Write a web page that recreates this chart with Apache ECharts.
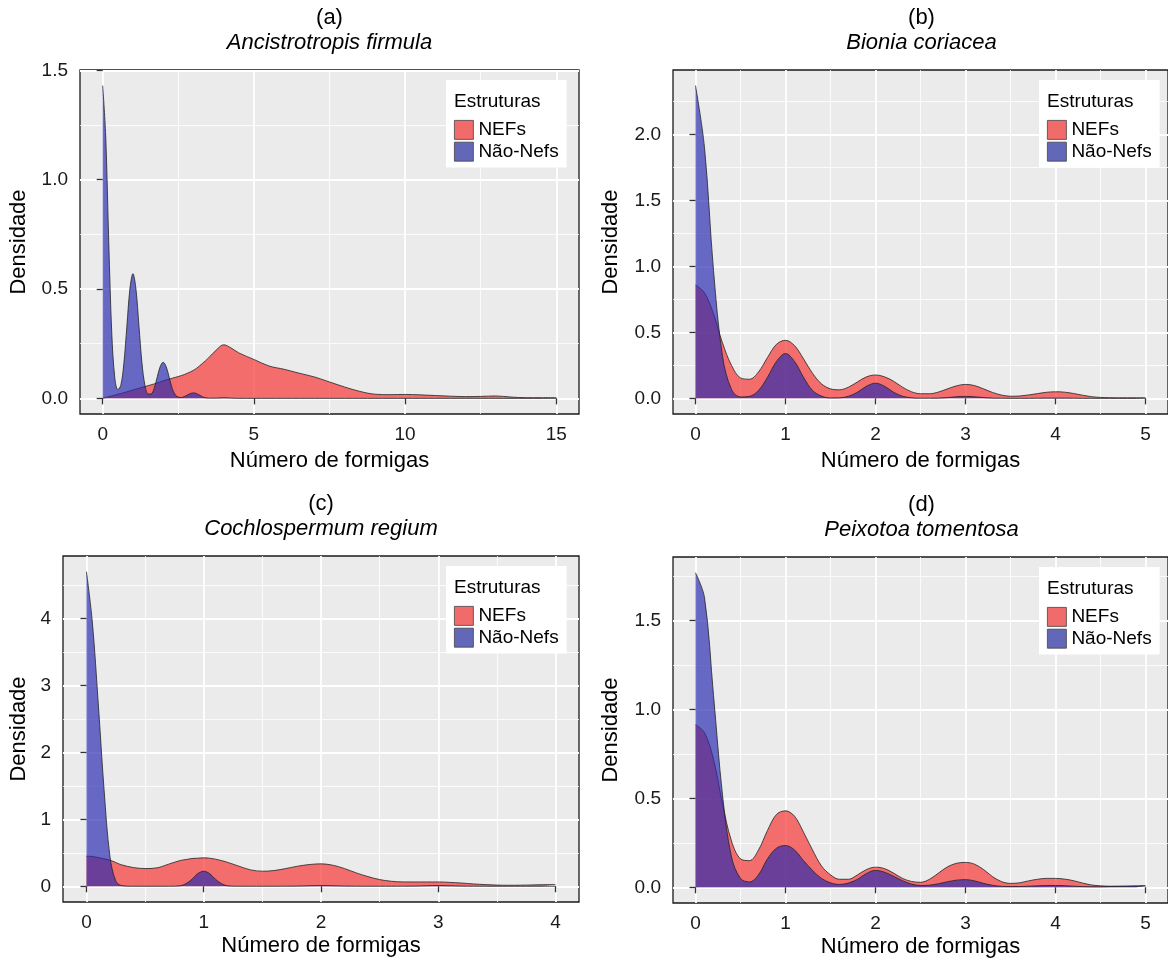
<!DOCTYPE html>
<html>
<head>
<meta charset="utf-8">
<script src="https://cdn.jsdelivr.net/npm/echarts@6/dist/echarts.min.js"></script>
<style>
  html, body { margin: 0; padding: 0; background: #fff; }
  #chart { width: 1168px; height: 963px; }
</style>
</head>
<body>
<div id="chart"></div>
<script>
// ---- values ----
const seriesNames = ['NEFs', 'Não-Nefs'];
const panelLetters = ['(a)', '(b)', '(c)', '(d)'];
const speciesNames = ['Ancistrotropis firmula', 'Bionia coriacea', 'Cochlospermum regium', 'Peixotoa tomentosa'];

// (a) Ancistrotropis firmula
const aX = [0,0.1,0.2,0.3,0.4,0.5,0.6,0.7,0.8,0.9,1,1.1,1.2,1.3,1.4,1.5,1.6,1.7,1.8,1.9,2,2.1,2.2,2.3,2.4,2.5,2.6,2.7,2.8,2.9,3,3.1,3.2,3.3,3.4,3.5,3.75,4,4.25,4.5,5,5.5,6,6.5,7,7.5,8,8.5,9,9.5,10,10.5,11,11.5,12,12.5,13,13.5,14,14.5,15];
const aNefs = [0,0.004,0.008,0.011,0.015,0.019,0.022,0.026,0.03,0.034,
  0.038,0.042,0.046,0.05,0.054,0.058,0.062,0.066,0.07,0.075,
  0.08,0.084,0.088,0.092,0.096,0.1,0.104,0.109,0.115,0.121,
  0.128,0.137,0.148,0.16,0.172,0.185,
  0.22,0.245,0.23,0.208,
  0.178,0.148,0.133,0.115,0.098,0.075,0.052,0.032,0.019,0.017,0.018,0.016,0.013,0.01,0.008,0.009,0.011,0.006,0.003,0.003,0.003];
const aNaoNefs = [1.43,1.2,0.72,0.3,0.095,0.04,0.06,0.16,0.33,0.5,
  0.57,0.5,0.33,0.16,0.058,0.02,0.02,0.045,0.095,0.145,
  0.165,0.145,0.095,0.045,0.016,0.006,0.004,0.008,0.015,0.022,
  0.025,0.022,0.015,0.007,0.003,0.001,
  0.001,0.003,0.001,0,
  0,0,0,0,0,0,0,0,0,0,0,0,0,0,0,0,0,0,0,0,0];

// (b) Bionia coriacea
const bX = [0,0.1,0.2,0.3,0.4,0.5,0.6,0.7,0.8,0.9,1,1.1,1.2,1.3,1.4,1.5,1.6,1.7,1.8,1.9,2,2.1,2.2,2.3,2.4,2.5,2.6,2.7,2.8,2.9,3,3.1,3.2,3.3,3.4,3.5,3.6,3.7,3.8,3.9,4,4.1,4.2,4.3,4.4,4.5,4.6,4.7,4.8,4.9,5];
const bNefs = [0.86,0.8,0.64,0.42,0.25,0.155,0.145,0.2,0.31,0.41,
  0.44,0.4,0.3,0.19,0.11,0.072,0.065,0.085,0.125,0.163,
  0.177,0.163,0.13,0.085,0.05,0.035,0.035,0.048,0.072,0.095,
  0.106,0.097,0.072,0.045,0.025,0.016,0.018,0.026,0.036,0.046,
  0.05,0.047,0.037,0.024,0.013,0.007,0.005,0.004,0.004,0.004,
  0.005];
const bNaoNefs = [2.37,1.9,0.97,0.32,0.068,0.011,0.015,0.06,0.16,0.28,
  0.34,0.28,0.16,0.06,0.017,0.003,0.004,0.016,0.047,0.092,
  0.115,0.092,0.047,0.016,0.004,0.001,0.001,0.002,0.006,0.012,
  0.015,0.012,0.006,0.002,0.001,0,0,0,0.001,0.002,
  0.002,0.002,0.001,0,0,0,0,0,0,0,
  0];

// (c) Cochlospermum regium
const cX = [0,0.05,0.1,0.15,0.2,0.25,0.3,0.4,0.5,0.6,0.7,0.8,0.85,0.9,0.95,1,1.05,1.1,1.15,1.2,1.3,1.4,1.5,1.6,1.7,1.8,1.9,2,2.1,2.2,2.3,2.4,2.5,2.6,2.7,2.8,2.9,3,3.1,3.2,3.3,3.4,3.5,3.6,3.7,3.8,3.9,4];
const cNefs = [0.45,0.445,0.43,0.41,0.39,0.355,0.32,
  0.28,0.265,0.275,0.33,0.385,
  0.4,0.415,0.42,0.425,0.42,0.405,0.385,
  0.36,0.3,0.245,0.225,0.235,0.265,0.3,0.325,0.335,0.315,0.265,
  0.2,0.145,0.1,0.075,0.065,0.065,0.065,0.065,0.058,0.048,
  0.035,0.025,0.018,0.015,0.016,0.02,0.024,0.025];
const cNaoNefs = [4.7,3.95,2.75,1.45,0.45,0.08,0.01,
  0,0,0,0,0.008,
  0.04,0.105,0.19,0.225,0.19,0.105,0.04,
  0.008,0,0,0,0,0.001,0.003,0.007,0.01,0.007,0.003,
  0.001,0,0,0,0.001,0.003,0.007,0.01,0.007,0.003,
  0.001,0,0,0,0,0,0,0];

// (d) Peixotoa tomentosa
const dX = [0,0.1,0.2,0.3,0.4,0.5,0.6,0.7,0.8,0.9,1,1.1,1.2,1.3,1.4,1.5,1.6,1.7,1.8,1.9,2,2.1,2.2,2.3,2.4,2.5,2.6,2.7,2.8,2.9,3,3.1,3.2,3.3,3.4,3.5,3.6,3.7,3.8,3.9,4,4.1,4.2,4.3,4.4,4.5,4.6,4.7,4.8,4.9,5];
const dNefs = [0.915,0.87,0.72,0.47,0.26,0.16,0.15,0.21,0.32,0.41,
  0.43,0.4,0.31,0.21,0.12,0.07,0.045,0.045,0.07,0.1,
  0.113,0.105,0.08,0.05,0.033,0.028,0.045,0.08,0.115,0.135,
  0.14,0.13,0.1,0.06,0.032,0.022,0.025,0.036,0.045,0.05,
  0.05,0.046,0.037,0.024,0.013,0.008,0.006,0.006,0.006,0.007,
  0.008];
const dNaoNefs = [1.77,1.63,1.08,0.52,0.17,0.05,0.03,0.07,0.16,0.22,
  0.235,0.21,0.15,0.095,0.05,0.025,0.016,0.024,0.045,0.078,
  0.095,0.085,0.062,0.037,0.018,0.01,0.012,0.02,0.031,0.04,
  0.043,0.036,0.022,0.011,0.005,0.004,0.004,0.006,0.008,0.01,
  0.01,0.009,0.006,0.004,0.003,0.003,0.004,0.005,0.006,0.007,
  0.008];

// tick values (major / minor grid)
const aXTicks = [0, 5, 10, 15];          const aXMinor = [2.5, 7.5, 12.5];
const aYTicks = [0, 0.5, 1, 1.5];        const aYMinor = [0.25, 0.75, 1.25];
const bXTicks = [0, 1, 2, 3, 4, 5];      const bXMinor = [0.5, 1.5, 2.5, 3.5, 4.5];
const bYTicks = [0, 0.5, 1, 1.5, 2];     const bYMinor = [0.25, 0.75, 1.25, 1.75, 2.25];
const cXTicks = [0, 1, 2, 3, 4];         const cXMinor = [0.5, 1.5, 2.5, 3.5];
const cYTicks = [0, 1, 2, 3, 4];         const cYMinor = [0.5, 1.5, 2.5, 3.5, 4.5];
const dXTicks = [0, 1, 2, 3, 4, 5];      const dXMinor = [0.5, 1.5, 2.5, 3.5, 4.5];
const dYTicks = [0, 0.5, 1, 1.5];        const dYMinor = [0.25, 0.75, 1.25, 1.75];

// ---- layout and styling ----
const FONT = '"Liberation Sans", Arial, sans-serif';
const RED = 'rgba(246,55,55,0.7)';
const BLUE = 'rgba(40,42,175,0.68)';
const RED_KEY = '#F26B6B';
const BLUE_KEY = '#6267B8';

const panels = [
  { x: aX, nefs: aNefs, nao: aNaoNefs, xt: aXTicks, xm: aXMinor, yt: aYTicks, ym: aYMinor,
    left: 80, top: 70, width: 499, height: 344, xr: [-0.75, 15.75], yr: [-0.0715, 1.5015], dec: 1, yGap: 50, xGap: 36, legLeft: 446 },
  { x: bX, nefs: bNefs, nao: bNaoNefs, xt: bXTicks, xm: bXMinor, yt: bYTicks, ym: bYMinor,
    left: 673, top: 70, width: 497, height: 344, xr: [-0.25, 5.25], yr: [-0.1185, 2.4885], dec: 1, yGap: 51, xGap: 36, legLeft: 1039 },
  { x: cX, nefs: cNefs, nao: cNaoNefs, xt: cXTicks, xm: cXMinor, yt: cYTicks, ym: cYMinor,
    left: 63, top: 556, width: 516, height: 346, xr: [-0.2, 4.2], yr: [-0.235, 4.935], dec: 0, yGap: 33, xGap: 33, legLeft: 446 },
  { x: dX, nefs: dNefs, nao: dNaoNefs, xt: dXTicks, xm: dXMinor, yt: dYTicks, ym: dYMinor,
    left: 673, top: 557, width: 497, height: 346, xr: [-0.25, 5.25], yr: [-0.0885, 1.8585], dec: 1, yGap: 51, xGap: 33, legLeft: 1039 }
];

const grid = [], xAxis = [], yAxis = [], series = [], legend = [], graphic = [];

panels.forEach((p, i) => {
  grid.push({
    left: p.left, top: p.top, width: p.width, height: p.height,
    show: true, backgroundColor: '#EBEBEB', borderColor: '#1a1a1a', borderWidth: 1.3
  });

  // major x axis (labels, ticks, major grid)
  xAxis.push({
    type: 'value', gridIndex: i, min: p.xr[0], max: p.xr[1],
    name: 'Número de formigas', nameLocation: 'middle', nameGap: p.xGap,
    nameTextStyle: { fontSize: 22, color: '#000', fontFamily: FONT },
    axisLine: { show: false },
    axisTick: { show: true, customValues: p.xt, length: 6, lineStyle: { color: '#333', width: 1.3 } },
    axisLabel: { customValues: p.xt, fontSize: 19, color: '#1a1a1a', margin: 11, fontFamily: FONT },
    splitLine: { show: true, lineStyle: { color: '#fff', width: 1.8 } }
  });
  // minor x grid
  xAxis.push({
    type: 'value', gridIndex: i, min: p.xr[0], max: p.xr[1],
    axisLine: { show: false },
    axisTick: { show: false, customValues: p.xm },
    axisLabel: { show: false, customValues: p.xm },
    splitLine: { show: true, lineStyle: { color: '#fff', width: 0.8 } }
  });

  yAxis.push({
    type: 'value', gridIndex: i, min: p.yr[0], max: p.yr[1],
    name: 'Densidade', nameLocation: 'middle', nameGap: p.yGap,
    nameTextStyle: { fontSize: 22, color: '#000', fontFamily: FONT },
    axisLine: { show: false },
    axisTick: { show: true, customValues: p.yt, length: 6, lineStyle: { color: '#333', width: 1.3 } },
    axisLabel: { customValues: p.yt, fontSize: 19, color: '#1a1a1a', margin: 12, fontFamily: FONT,
      formatter: v => Number(v).toFixed(p.dec) },
    splitLine: { show: true, lineStyle: { color: '#fff', width: 1.8 } }
  });
  yAxis.push({
    type: 'value', gridIndex: i, min: p.yr[0], max: p.yr[1],
    axisLine: { show: false },
    axisTick: { show: false, customValues: p.ym },
    axisLabel: { show: false, customValues: p.ym },
    splitLine: { show: true, lineStyle: { color: '#fff', width: 0.8 } }
  });

  const common = {
    type: 'line', xAxisIndex: 2 * i, yAxisIndex: 2 * i,
    smooth: 0.35, symbol: 'none', silent: true, animation: false,
    lineStyle: { color: '#222', width: 0.8 }
  };
  series.push(Object.assign({}, common, {
    name: seriesNames[0], z: 3,
    data: p.x.map((x, k) => [x, p.nefs[k]]),
    areaStyle: { color: RED, opacity: 1 }
  }));
  series.push(Object.assign({}, common, {
    name: seriesNames[1], z: 4,
    data: p.x.map((x, k) => [x, p.nao[k]]),
    areaStyle: { color: BLUE, opacity: 1 }
  }));

  legend.push({
    orient: 'vertical', left: p.legLeft, top: p.top + 10,
    backgroundColor: '#fff', padding: [40, 8, 6, 8],
    itemWidth: 19, itemHeight: 19, itemGap: 2, icon: 'rect',
    selectedMode: false,
    textStyle: { fontSize: 19, color: '#000', fontFamily: FONT },
    data: [
      { name: seriesNames[0], itemStyle: { color: RED_KEY, borderColor: '#444', borderWidth: 0.8 } },
      { name: seriesNames[1], itemStyle: { color: BLUE_KEY, borderColor: '#444', borderWidth: 0.8 } }
    ]
  });

  const cx = p.left + p.width / 2;
  graphic.push({
    type: 'text', x: cx, y: p.top - 52, z: 100,
    style: { text: panelLetters[i], fontSize: 22, fontFamily: FONT, fill: '#000', align: 'center', verticalAlign: 'middle' }
  });
  graphic.push({
    type: 'text', x: cx, y: p.top - 27, z: 100,
    style: { text: speciesNames[i], fontSize: 22, fontStyle: 'italic', fontFamily: FONT, fill: '#000', align: 'center', verticalAlign: 'middle' }
  });
  graphic.push({
    type: 'text', x: p.legLeft + 8, y: p.top + 32, z: 100,
    style: { text: 'Estruturas', fontSize: 19, fontFamily: FONT, fill: '#000', align: 'left', verticalAlign: 'middle' }
  });
});

const chart = echarts.init(document.getElementById('chart'));
chart.setOption({
  animation: false,
  backgroundColor: '#fff',
  grid, xAxis, yAxis, series, legend, graphic
});
window.addEventListener('resize', chart.resize);
</script>
</body>
</html>
